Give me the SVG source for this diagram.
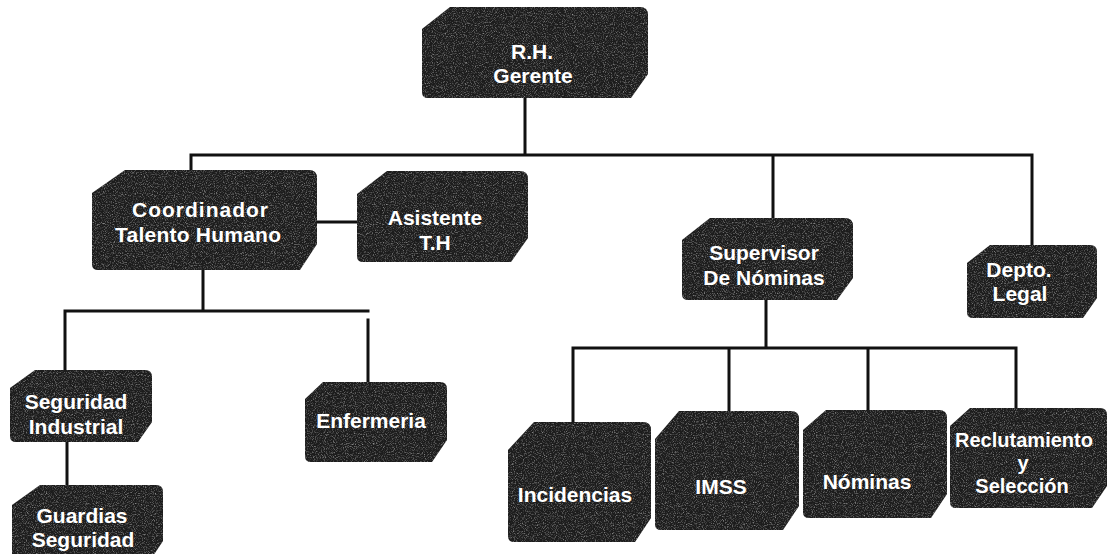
<svg xmlns="http://www.w3.org/2000/svg" width="1107" height="554" viewBox="0 0 1107 554">
<style>
.box{fill:#1c1c1c;filter:url(#grain)}
.lbl{font-family:"Liberation Sans",Arial,sans-serif;font-weight:bold;font-size:21px;fill:#fff;text-anchor:middle}
.sm{font-size:20px}
.con{fill:none;stroke:#111;stroke-width:3;stroke-linecap:square}
</style>
<defs>
<filter id="grain" x="0" y="0" width="1" height="1" color-interpolation-filters="sRGB">
<feTurbulence type="fractalNoise" baseFrequency="0.9" numOctaves="2" seed="7" result="n"/>
<feColorMatrix in="n" type="matrix" values="0 0 0 0 0.6 0 0 0 0 0.6 0 0 0 0 0.6 2.2 0 0 0 -1.05" result="sp"/>
<feComposite in="sp" in2="SourceGraphic" operator="in" result="sp2"/>
<feMerge><feMergeNode in="SourceGraphic"/><feMergeNode in="sp2"/></feMerge>
</filter>
</defs>
<rect width="1107" height="554" fill="#fff"/>
<g id="connectors">
<path class="con" d="M525,98 V155 M191,155 H1032 M191,155 V170 M773,155 V218 M1032,155 V245"/>
<path class="con" d="M317,222 H357"/>
<path class="con" d="M203,270 V311 M65,311 H368 M65,311 V370 M368,320 V382"/>
<path class="con" d="M67,442 V485"/>
<path class="con" d="M766,300 V348 M573,348 H1016 M573,348 V422 M729,348 V411 M868,348 V410 M1016,348 V408"/>
</g>
<g id="rh-gerente">
<path class="box" d="M422,29 L450,7 L640,7 Q648,7 648,15 L648,74 L631,98 L428,98 Q422,98 422,92 Z"/>
<text class="lbl" x="532" y="59">R.H.</text>
<text class="lbl" x="533" y="83">Gerente</text>
</g>
<g id="coordinador">
<path class="box" d="M92,193 L125,170 L309,170 Q317,170 317,178 L317,244 L300,270 L98,270 Q92,270 92,264 Z"/>
<text class="lbl" x="200" y="217" textLength="136">Coordinador</text>
<text class="lbl" x="198" y="242" textLength="166">Talento Humano</text>
</g>
<g id="asistente">
<path class="box" d="M357,194 L387,171 L520,171 Q528,171 528,179 L528,238 L511,262 L363,262 Q357,262 357,256 Z"/>
<text class="lbl" x="435" y="225">Asistente</text>
<text class="lbl" x="435" y="250">T.H</text>
</g>
<g id="supervisor">
<path class="box" d="M682,240 L710,218 L845,218 Q853,218 853,226 L853,278 L837,300 L688,300 Q682,300 682,294 Z"/>
<text class="lbl" x="764" y="260">Supervisor</text>
<text class="lbl" x="764" y="285">De Nóminas</text>
</g>
<g id="depto-legal">
<path class="box" d="M967,263 L990,245 L1090,245 Q1097,245 1097,252 L1097,298 L1083,318 L973,318 Q967,318 967,312 Z"/>
<text class="lbl" x="1019" y="277">Depto.</text>
<text class="lbl" x="1020" y="301">Legal</text>
</g>
<g id="seguridad-industrial">
<path class="box" d="M10,388 L35,370 L145,370 Q152,370 152,377 L152,422 L138,442 L16,442 Q10,442 10,436 Z"/>
<text class="lbl" x="76" y="409">Seguridad</text>
<text class="lbl" x="76" y="434">Industrial</text>
</g>
<g id="guardias-seguridad">
<path class="box" d="M12,505 L40,485 L156,485 Q163,485 163,492 L163,541 L147,565 L18,565 Q12,565 12,559 Z"/>
<text class="lbl" x="82" y="523">Guardias</text>
<text class="lbl" x="83" y="547">Seguridad</text>
</g>
<g id="enfermeria">
<path class="box" d="M305,399 L323,382 L440,382 Q447,382 447,389 L447,440 L432,462 L311,462 Q305,462 305,456 Z"/>
<text class="lbl" x="371" y="428">Enfermeria</text>
</g>
<g id="incidencias">
<path class="box" d="M508,450 L534,422 L643,422 Q651,422 651,430 L651,518 L635,542 L514,542 Q508,542 508,536 Z"/>
<text class="lbl" x="575" y="502">Incidencias</text>
</g>
<g id="imss">
<path class="box" d="M655,439 L679,411 L791,411 Q799,411 799,419 L799,506 L783,530 L661,530 Q655,530 655,524 Z"/>
<text class="lbl" x="721" y="494">IMSS</text>
</g>
<g id="nominas">
<path class="box" d="M803,430 L826,410 L939,410 Q947,410 947,418 L947,494 L931,518 L809,518 Q803,518 803,512 Z"/>
<text class="lbl" x="867" y="489">Nóminas</text>
</g>
<g id="reclutamiento">
<path class="box" d="M950,426 L970,408 L1100,408 Q1107,408 1107,415 L1107,486 L1092,508 L956,508 Q950,508 950,502 Z"/>
<text class="lbl sm" x="1024" y="447" textLength="138">Reclutamiento</text>
<text class="lbl sm" x="1023" y="470">y</text>
<text class="lbl sm" x="1022" y="493">Selección</text>
</g>
</svg>
